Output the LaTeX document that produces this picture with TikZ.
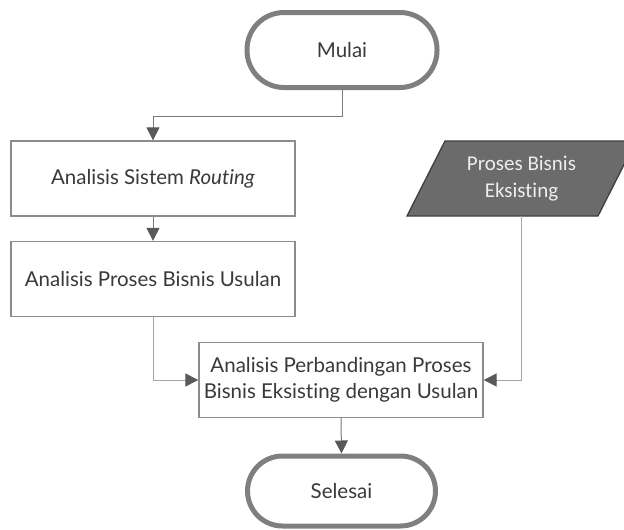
\documentclass[tikz,border=0pt]{standalone}
\usepackage{fontspec}
\setmainfont{Lato}[Ligatures={NoCommon}]
\newfontfamily\calfont{Carlito}[Ligatures={NoCommon}]
\usetikzlibrary{arrows.meta,positioning}
\definecolor{txt}{HTML}{3A3A3A}
\definecolor{bord}{HTML}{8C8C8C}
\definecolor{term}{HTML}{7F7F7F}
\definecolor{conn}{HTML}{7A7A7A}
\definecolor{connl}{HTML}{A6A6A6}
\definecolor{tip}{HTML}{595959}
\definecolor{pfill}{HTML}{6B6B6B}
\definecolor{pbord}{HTML}{3F3F3F}
\definecolor{ptxt}{HTML}{EDEDED}
\tikzset{
  x=1pt,y=-1pt,
  every node/.style={font=\fontsize{20.5}{26}\selectfont,text=txt,inner sep=0pt},
  terminal/.style={draw=term,line width=5pt,rounded corners=37pt,fill=white,
    minimum width=190pt,minimum height=75pt},
  procbox/.style={draw=bord,line width=1.3pt,fill=white,
    minimum width=284pt,minimum height=75pt,align=center},
  connector/.style={draw=conn,line width=1pt,
    -{Triangle[length=13pt,width=13pt,color=tip]}},
}
\begin{document}
\begin{tikzpicture}
\useasboundingbox (0,0) rectangle (624,530);
\clip (0,0) rectangle (624,530);
\node[terminal] (mulai) at (342,50) {Mulai};
\node[procbox] (b1) at (153,178.5) {Analisis Sistem \textit{Routing}};
\node[procbox] (b2) at (153,279) {Analisis Proses Bisnis Usulan};
\node[procbox] (b3) at (341,380) {Analisis Perbandingan Proses\\Bisnis Eksisting dengan Usulan};
\node[terminal,minimum width=188pt,minimum height=70pt,rounded corners=35pt] (sel) at (341.5,491) {Selesai};
\draw[fill=pfill,draw=pbord,line width=1.3pt] (445,141) -- (636,141) -- (598,216) -- (407,216) -- cycle;
\node[minimum width=191pt,minimum height=75pt,align=center,
  font=\calfont\fontsize{21}{27}\selectfont,text=ptxt] (pb) at (521.5,178.5) {Proses Bisnis\\Eksisting};
\coordinate (e1) at (342,116);
\draw[connector] (mulai.south) -- (e1) -| (b1.north);
\draw[connector] (b1.south) -- (b2.north);
\draw[connector,draw=connl] (b2.south) |- (b3.west);
\draw[connector,draw=connl] (pb.south) |- (b3.east);
\draw[connector] (b3.south) -- (sel.north);
\end{tikzpicture}
\end{document}
